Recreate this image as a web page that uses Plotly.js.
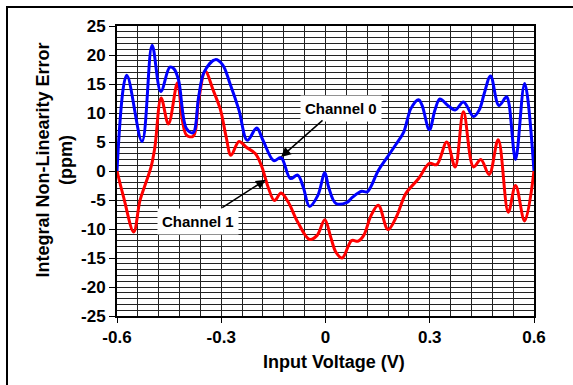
<!DOCTYPE html>
<html>
<head>
<meta charset="utf-8">
<script src="https://cdn.plot.ly/plotly-3.0.1.min.js"></script>
<style>
html,body{margin:0;padding:0;background:#fff;}
#chart{width:573px;height:385px;}
</style>
</head>
<body>
<div id="chart"></div>
<script>
// Channel 0 (blue)
var ch0X = [-0.6,-0.572,-0.528,-0.499,-0.474,-0.448,-0.436,-0.423,-0.400,-0.381,-0.365,-0.349,-0.317,-0.296,-0.275,-0.249,-0.225,-0.198,-0.180,-0.149,-0.128,-0.101,-0.080,-0.064,-0.046,-0.022,-0.002,0.009,0.030,0.062,0.078,0.104,0.120,0.152,0.178,0.204,0.225,0.246,0.268,0.278,0.299,0.315,0.329,0.352,0.373,0.397,0.426,0.443,0.457,0.475,0.499,0.521,0.528,0.547,0.573,0.6];
var ch0Y = [0,16.5,5.1,21.7,13.7,17.9,17.6,15.7,7.3,6.6,12.8,17.1,19.2,18.3,15.1,10.5,5.3,7.4,5.3,1.8,2.3,-1.3,-0.7,-2.8,-6.1,-4.2,-0.3,-2.8,-5.6,-5.4,-4.5,-3.5,-3.6,0.1,2.4,4.7,6.7,10.8,12.3,11.3,7.1,10.5,12.4,11.3,10.5,11.9,9.4,10.6,13.4,16.4,11.3,12.8,11.6,2.0,15.1,0];
// Channel 1 (red)
var ch1X = [-0.6,-0.581,-0.552,-0.534,-0.518,-0.502,-0.491,-0.473,-0.452,-0.426,-0.412,-0.400,-0.381,-0.365,-0.346,-0.323,-0.302,-0.286,-0.272,-0.249,-0.228,-0.202,-0.183,-0.165,-0.147,-0.128,-0.107,-0.080,-0.046,-0.024,-0.002,0.015,0.030,0.048,0.075,0.094,0.110,0.131,0.152,0.180,0.204,0.231,0.268,0.299,0.320,0.349,0.373,0.397,0.426,0.447,0.471,0.497,0.526,0.547,0.573,0.6];
var ch1Y = [0,-4.5,-10.5,-5.1,-2.2,0.7,4.1,12.6,8.1,15.2,8.8,6.2,6.0,12.2,17.2,13.9,10.5,5.9,2.7,5.1,4.1,3.0,0.7,-2.8,-5.1,-3.8,-5.4,-8.8,-11.8,-11.1,-8.4,-11.4,-14.0,-15.0,-12.0,-12.1,-11.1,-7.7,-5.9,-10.1,-7.9,-3.9,-1.3,1.3,1.1,5.0,0.7,10.2,0.7,2.0,-0.6,5.4,-7.1,-2.5,-8.6,0];

var xTickVals = [-0.6,-0.3,0,0.3,0.6];
var xTickText = ["-0.6","-0.3","0","0.3","0.6"];
var yTickVals = [-25,-20,-15,-10,-5,0,5,10,15,20,25];
var yTickText = ["-25","-20","-15","-10","-5","0","5","10","15","20","25"];

var labels = ["Channel 0","Channel 1"];
var arrowHeadX = [-0.128,-0.172];
var arrowHeadY = [2.4,-1.5];

var F = "Liberation Sans, Arial, sans-serif";

var traces = [
  {x: ch1X, y: ch1Y, mode: 'lines', line: {color: '#ff0000', width: 3, shape: 'spline', smoothing: 1}, hoverinfo: 'skip'},
  {x: ch0X, y: ch0Y, mode: 'lines', line: {color: '#0000ff', width: 3, shape: 'spline', smoothing: 1}, hoverinfo: 'skip'}
];

var L = 117, R = 39, T = 26, B = 69, W = 573, H = 385;
var pw = W - L - R, ph = H - T - B;
function px(p){ return (p - L) / pw; }
function py(p){ return 1 - (p - T) / ph; }

var layout = {
  width: W, height: H,
  margin: {l: L, r: R, t: T, b: B, pad: 0},
  paper_bgcolor: '#fff', plot_bgcolor: '#fff',
  showlegend: false,
  xaxis: {
    range: [-0.6, 0.6], tickvals: xTickVals, ticktext: xTickText,
    showgrid: true, gridcolor: '#222', gridwidth: 1,
    minor: {dtick: 0.06, tick0: -0.6, showgrid: true, gridcolor: '#222', gridwidth: 1},
    showline: true, linecolor: '#000', linewidth: 2, mirror: true,
    ticks: 'outside', ticklen: 5, tickcolor: '#000',
    zeroline: false,
    tickfont: {family: F, size: 17, color: '#000', weight: 'bold'}
  },
  yaxis: {
    range: [-25, 25], tickvals: yTickVals, ticktext: yTickText,
    showgrid: true, gridcolor: '#222', gridwidth: 1,
    minor: {dtick: 1, tick0: 0, showgrid: true, gridcolor: '#222', gridwidth: 1},
    showline: true, linecolor: '#000', linewidth: 2, mirror: true,
    ticks: 'outside', ticklen: 6, tickcolor: '#000',
    zeroline: false,
    tickfont: {family: F, size: 17, color: '#000', weight: 'bold'}
  },
  shapes: [
    {type: 'rect', xref: 'paper', yref: 'paper', x0: px(7), x1: px(700), y0: py(700), y1: py(7),
     line: {color: '#000', width: 2}, fillcolor: 'rgba(0,0,0,0)'}
  ],
  annotations: [
    {xref: 'paper', yref: 'paper', x: px(334), y: py(361.5), xanchor: 'center', yanchor: 'middle',
     text: 'Input Voltage (V)', showarrow: false, font: {family: F, size: 18, color: '#000', weight: 'bold'}},
    {xref: 'paper', yref: 'paper', x: px(53.5), y: py(160), xanchor: 'center', yanchor: 'middle',
     text: 'Integral Non-Linearity Error<br>(ppm)', textangle: -90, showarrow: false,
     font: {family: F, size: 18, color: '#000', weight: 'bold'}},
    {xref: 'paper', yref: 'paper', x: px(341), y: py(108.5), xanchor: 'center', yanchor: 'middle',
     text: labels[0], showarrow: false, bgcolor: '#fff', borderpad: 4,
     font: {family: F, size: 15, color: '#000', weight: 'bold'}},
    {xref: 'paper', yref: 'paper', x: px(197.5), y: py(221), xanchor: 'center', yanchor: 'middle',
     text: labels[1], showarrow: false, bgcolor: '#fff', borderpad: 4,
     font: {family: F, size: 15, color: '#000', weight: 'bold'}},
    {x: arrowHeadX[0], y: arrowHeadY[0], xref: 'x', yref: 'y', text: '', showarrow: true,
     ax: 43, ay: -38, arrowhead: 2, arrowsize: 1.3, arrowwidth: 1.5, arrowcolor: '#000', standoff: 0},
    {x: arrowHeadX[1], y: arrowHeadY[1], xref: 'x', yref: 'y', text: '', showarrow: true,
     ax: -45, ay: 29, arrowhead: 2, arrowsize: 1.3, arrowwidth: 1.5, arrowcolor: '#000', standoff: 0}
  ]
};

Plotly.newPlot('chart', traces, layout, {staticPlot: true, displayModeBar: false});
</script>
</body>
</html>
